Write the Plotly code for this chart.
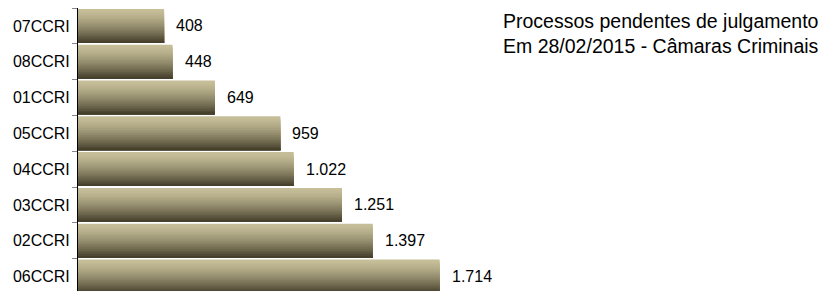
import plotly.graph_objects as go

# ---- data ----
categories = ["07CCRI", "08CCRI", "01CCRI", "05CCRI", "04CCRI", "03CCRI", "02CCRI", "06CCRI"]
values = [408, 448, 649, 959, 1022, 1251, 1397, 1714]
title_lines = ["Processos pendentes de julgamento", "Em 28/02/2015 - Câmaras Criminais"]

def fmt(v):
    return f"{v:,}".replace(",", ".")

# gradient colours (top -> bottom)
top_rgb = (198, 190, 152)
bot_rgb = (70, 64, 44)
N = 20
bw = 0.95

fig = go.Figure()
for k in range(N):
    t = k / (N - 1)
    tt = t ** 1.4
    c = tuple(round(top_rgb[i] + (bot_rgb[i] - top_rgb[i]) * tt) for i in range(3))
    fig.add_trace(go.Bar(
        x=values, y=categories, orientation="h",
        offset=-bw / 2 + k * bw / N, width=bw - k * bw / N,
        marker=dict(color=f"rgb{c}", line=dict(width=0)),
        hoverinfo="skip", showlegend=False,
    ))

for c, v in zip(categories, values):
    fig.add_annotation(x=v, y=c, text=fmt(v), showarrow=False, xanchor="left",
                       xshift=10, font=dict(family="Arial, Liberation Sans", size=16, color="#000"))

fig.add_annotation(xref="paper", yref="paper", x=0.9973, y=1.0, xanchor="right", yanchor="top",
                   text="<br>".join(title_lines), align="left", showarrow=False,
                   font=dict(family="Arial, Liberation Sans", size=19.5, color="#000"))

fig.update_layout(
    width=823, height=291,
    margin=dict(l=78, r=0, t=8, b=0, autoexpand=False),
    barmode="overlay",
    plot_bgcolor="white", paper_bgcolor="white",
    font=dict(family="Arial, Liberation Sans", size=16, color="#000"),
    xaxis=dict(range=[0, 3531], visible=False),
    yaxis=dict(categoryorder="array", categoryarray=categories,
               range=[7.405, -0.5], showline=True, linecolor="#000", linewidth=1,
               ticks="outside", tickson="boundaries", ticklen=5, tickcolor="#888",
               ticklabelstandoff=4,
               showgrid=False, zeroline=False, automargin=False,
               tickfont=dict(size=16, color="#000")),
)

fig.write_html("out.html", config={"displayModeBar": False},
               post_script="document.body.style.margin='0';document.body.style.overflow='hidden';")
